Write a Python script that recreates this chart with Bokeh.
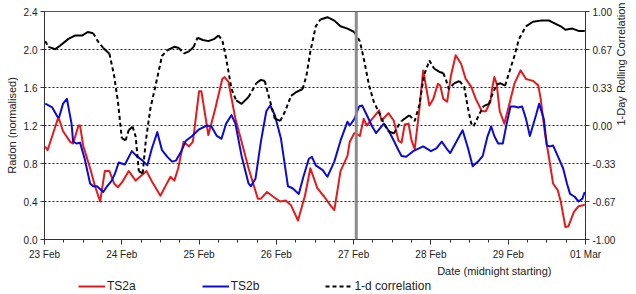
import math
import numpy as np
from bokeh.plotting import figure
from bokeh.layouts import column
from bokeh.models import (Range1d, LinearAxis, FixedTicker, NumeralTickFormatter,
                          Legend, LegendItem, Span, Title)
from bokeh.embed import file_html
from bokeh.resources import INLINE

# ---- data (time in days after 23 Feb 00:00) ----
ts2a_day = [0.01, 0.04, 0.18, 0.24, 0.33, 0.37, 0.44, 0.46, 0.50, 0.59, 0.65, 0.72, 0.78, 0.84, 0.90, 0.95,
            1.01, 1.09, 1.18, 1.32, 1.39, 1.50, 1.57, 1.63, 1.68, 1.73, 1.80, 1.87, 1.92, 2.00, 2.03, 2.12,
            2.21, 2.30, 2.33, 2.38, 2.47, 2.55, 2.64, 2.76, 2.80, 2.88, 2.96, 3.05, 3.12, 3.19, 3.28, 3.37,
            3.44, 3.53, 3.62, 3.70, 3.75, 3.83, 3.92, 3.95, 4.01, 4.08, 4.13, 4.17, 4.24, 4.33, 4.36, 4.45,
            4.52, 4.58, 4.62, 4.66, 4.71, 4.75, 4.79, 4.85, 4.90, 4.98, 5.03, 5.09, 5.12, 5.16, 5.21, 5.26,
            5.32, 5.39, 5.45, 5.52, 5.58, 5.66, 5.71, 5.77, 5.79, 5.82, 5.85, 5.89, 5.95, 6.01, 6.08, 6.16,
            6.23, 6.32, 6.39, 6.42, 6.48, 6.53, 6.58, 6.64, 6.68, 6.74, 6.78, 6.85, 6.91, 6.97, 6.99]
ts2a_val = [0.98, 0.94, 1.29, 1.14, 1.03, 1.01, 1.20, 1.20, 0.99, 0.75, 0.57, 0.40, 0.72, 0.72, 0.59, 0.55,
            0.61, 0.72, 0.62, 0.72, 0.61, 0.46, 0.57, 0.66, 0.62, 0.75, 1.03, 0.98, 1.03, 1.56, 1.56, 1.10,
            1.38, 1.69, 1.71, 1.66, 1.27, 1.03, 0.75, 0.43, 0.43, 0.50, 0.45, 0.40, 0.41, 0.36, 0.20, 0.46,
            0.75, 0.54, 0.45, 0.36, 0.31, 0.72, 0.88, 1.03, 1.12, 1.09, 1.27, 1.20, 1.27, 1.36, 1.25, 1.33,
            1.25, 1.04, 1.02, 1.21, 1.22, 1.04, 0.95, 1.37, 1.78, 1.41, 1.48, 1.64, 1.62, 1.48, 1.45, 1.73,
            1.94, 1.85, 1.69, 1.61, 1.48, 1.35, 1.35, 1.45, 1.58, 1.71, 1.64, 1.35, 1.22, 1.41, 1.64, 1.78,
            1.69, 1.67, 1.62, 1.48, 1.09, 0.85, 0.59, 0.52, 0.40, 0.13, 0.14, 0.29, 0.35, 0.36, 0.37]

ts2b_day = [0.01, 0.10, 0.17, 0.19, 0.24, 0.29, 0.35, 0.37, 0.42, 0.46, 0.52, 0.59, 0.63, 0.68, 0.76, 0.81,
            0.87, 0.91, 0.96, 1.04, 1.13, 1.19, 1.27, 1.33, 1.39, 1.46, 1.52, 1.59, 1.65, 1.70, 1.77, 1.83,
            1.91, 2.00, 2.10, 2.16, 2.23, 2.29, 2.35, 2.42, 2.47, 2.55, 2.64, 2.67, 2.73, 2.80, 2.87, 2.92,
            2.98, 3.06, 3.15, 3.21, 3.29, 3.35, 3.42, 3.46, 3.51, 3.60, 3.66, 3.75, 3.83, 3.92, 3.95, 4.01,
            4.07, 4.11, 4.17, 4.24, 4.29, 4.39, 4.45, 4.52, 4.58, 4.62, 4.68, 4.77, 4.90, 5.00, 5.07, 5.14,
            5.20, 5.25, 5.35, 5.41, 5.48, 5.54, 5.61, 5.67, 5.73, 5.78, 5.82, 5.87, 5.93, 5.98, 6.03, 6.08,
            6.13, 6.18, 6.23, 6.28, 6.36, 6.40, 6.46, 6.50, 6.54, 6.58, 6.64, 6.71, 6.76, 6.80, 6.86, 6.91,
            6.96, 6.99]
ts2b_val = [1.43, 1.39, 1.29, 1.29, 1.43, 1.48, 1.22, 1.03, 1.01, 1.02, 0.85, 0.59, 0.56, 0.56, 0.50, 0.56,
            0.62, 0.69, 0.81, 0.79, 0.93, 0.88, 0.83, 0.78, 0.96, 1.13, 0.94, 0.87, 0.82, 0.83, 0.93, 1.04,
            1.09, 1.16, 1.20, 1.19, 1.09, 1.06, 1.22, 1.31, 1.22, 0.88, 0.59, 0.56, 0.64, 1.03, 1.35, 1.41,
            1.31, 1.06, 0.56, 0.54, 0.48, 0.66, 0.85, 0.87, 0.78, 0.73, 0.66, 0.82, 1.04, 1.24, 1.20, 1.27,
            1.40, 1.41, 1.31, 1.19, 1.12, 1.22, 1.15, 1.04, 0.94, 0.88, 0.87, 0.93, 0.98, 0.93, 0.96, 1.03,
            0.96, 0.91, 1.06, 1.15, 0.96, 0.77, 0.82, 0.88, 1.08, 1.19, 1.09, 1.01, 1.01, 1.22, 1.40, 1.40,
            1.39, 1.40, 1.27, 1.09, 1.31, 1.43, 1.27, 0.99, 0.98, 0.99, 0.88, 0.75, 0.59, 0.48, 0.45, 0.40,
            0.43, 0.50]

corr_day = [0.01, 0.05, 0.14, 0.20, 0.31, 0.40, 0.49, 0.56, 0.63, 0.69, 0.76, 0.84, 0.90, 0.95, 1.00, 1.05,
            1.09, 1.14, 1.18, 1.22, 1.27, 1.31, 1.37, 1.45, 1.52, 1.59, 1.68, 1.74, 1.80, 1.87, 1.93, 1.98,
            2.05, 2.12, 2.20, 2.25, 2.30, 2.35, 2.42, 2.48, 2.55, 2.64, 2.74, 2.80, 2.85, 2.92, 2.98, 3.05,
            3.11, 3.19, 3.25, 3.34, 3.39, 3.44, 3.51, 3.57, 3.66, 3.75, 3.83, 3.92, 4.01, 4.08, 4.13, 4.20,
            4.26, 4.33, 4.39, 4.45, 4.52, 4.58, 4.62, 4.72, 4.79, 4.85, 4.91, 4.98, 5.04, 5.11, 5.16, 5.20,
            5.23, 5.30, 5.37, 5.43, 5.48, 5.52, 5.55, 5.62, 5.68, 5.75, 5.78, 5.85, 5.90, 5.96, 6.01, 6.08,
            6.14, 6.23, 6.32, 6.42, 6.53, 6.62, 6.68, 6.74, 6.83, 6.91, 6.99]
corr_val = [0.74, 0.69, 0.67, 0.70, 0.76, 0.79, 0.79, 0.82, 0.81, 0.74, 0.68, 0.63, 0.44, 0.21, -0.11, -0.13,
            -0.04, -0.01, -0.10, -0.40, -0.42, -0.14, 0.15, 0.39, 0.61, 0.66, 0.69, 0.68, 0.63, 0.65, 0.69, 0.77,
            0.75, 0.74, 0.76, 0.79, 0.75, 0.59, 0.32, 0.22, 0.19, 0.25, 0.37, 0.40, 0.39, 0.21, 0.06, 0.04,
            0.12, 0.26, 0.29, 0.32, 0.44, 0.65, 0.87, 0.93, 0.95, 0.92, 0.87, 0.85, 0.82, 0.74, 0.59, 0.35,
            0.21, 0.11, 0.02, -0.05, -0.07, 0.00, 0.04, 0.09, 0.04, 0.18, 0.44, 0.57, 0.50, 0.47, 0.46, 0.39,
            0.32, 0.37, 0.39, 0.34, 0.15, 0.02, -0.01, 0.09, 0.17, 0.19, 0.25, 0.36, 0.37, 0.35, 0.46, 0.61,
            0.76, 0.87, 0.91, 0.92, 0.92, 0.89, 0.87, 0.84, 0.85, 0.83, 0.83]

event_day = 4.034
x_tick_days = [0, 1, 2, 3, 4, 5, 6, 7]
x_tick_labels = ["23 Feb", "24 Feb", "25 Feb", "26 Feb", "27 Feb", "28 Feb", "29 Feb", "01 Mar"]
left_ticks = [0.0, 0.4, 0.8, 1.2, 1.6, 2.0, 2.4]
right_ticks = [-1.0, -2 / 3, -1 / 3, 0.0, 1 / 3, 2 / 3, 1.0]
series_names = ["TS2a", "TS2b", "1-d correlation"]

FONT = "Liberation Sans"
RED = "#e41a1c"
BLUE = "#0b0bd8"
DASH = "4 3"

p = figure(width=636, height=278, x_range=Range1d(0, 7), y_range=Range1d(0, 2.4),
           output_backend="svg", toolbar_location=None,
           min_border_left=44, min_border_right=45, min_border_top=11, min_border_bottom=39)
p.extra_y_ranges = {"corr": Range1d(-1, 1)}
p.outline_line_color = "#555555"
p.background_fill_color = "white"
p.border_fill_color = "white"

# axes
xa = p.xaxis[0]
xa.ticker = FixedTicker(ticks=x_tick_days, minor_ticks=list(np.arange(0, 7.01, 0.25)))
xa.major_label_overrides = {d: l for d, l in zip(x_tick_days, x_tick_labels)}
ya = p.yaxis[0]
ya.ticker = FixedTicker(ticks=left_ticks)
ya.formatter = NumeralTickFormatter(format="0.0")
ya.axis_label = "Radon (normalised)"
ra = LinearAxis(y_range_name="corr", ticker=FixedTicker(ticks=right_ticks),
                formatter=NumeralTickFormatter(format="0.00"),
                axis_label="1-Day Rolling Correlation")
if "axis_label_orientation" in ra.properties():
    ra.axis_label_orientation = math.pi / 2
p.add_layout(ra, "right")

for ax in (xa, ya, ra):
    ax.axis_line_color = "#333333"
    ax.major_tick_line_color = "#333333"
    ax.minor_tick_line_color = "#333333"
    ax.major_tick_in = 0
    ax.minor_tick_in = 0
    ax.major_tick_out = 4
    ax.minor_tick_out = 0
    ax.major_label_text_font = FONT
    ax.major_label_text_font_size = "10px"
    ax.major_label_text_color = "#222222"
    ax.axis_label_text_font = FONT
    ax.axis_label_text_font_size = "11px"
    ax.axis_label_text_font_style = "normal"
    ax.axis_label_text_color = "#222222"
    ax.major_label_standoff = 3
    ax.axis_label_standoff = 3
xa.major_tick_out = 5
xa.minor_tick_out = 3
xa.major_label_standoff = 4

p.xgrid.visible = False
p.ygrid.ticker = FixedTicker(ticks=left_ticks)
p.ygrid.grid_line_color = "#222222"
p.ygrid.grid_line_dash = "2 2"
p.ygrid.grid_line_width = 1

# series
p.line(ts2a_day, ts2a_val, line_color=RED, line_width=2, line_join="round")
p.line(ts2b_day, ts2b_val, line_color=BLUE, line_width=2, line_join="round")

# correlation: steep parts look dashed, flat parts look solid
cd = np.array(corr_day)
cv = np.array(corr_val)
steep = np.abs(np.diff(cv)) * 114 > np.diff(cd) * 78 * 1.0
runs = []
start = 0
for i in range(1, len(steep)):
    if steep[i] != steep[start]:
        runs.append((bool(steep[start]), start, i))
        start = i
runs.append((bool(steep[start]), start, len(steep)))
sx, sy, dx, dy = [], [], [], []
for is_steep, a, b in runs:
    if is_steep:
        dx.append(list(cd[a:b + 1])); dy.append(list(cv[a:b + 1]))
    else:
        sx.append(list(cd[a:b + 1])); sy.append(list(cv[a:b + 1]))
p.multi_line(sx, sy, line_color="black", line_width=2, line_join="round", y_range_name="corr")
p.multi_line(dx, dy, line_color="black", line_width=2, line_dash=DASH, y_range_name="corr")

p.add_layout(Span(location=event_day, dimension="height", line_color="#8c8c8c", line_width=3))

p.add_layout(Title(text="Date (midnight starting)", align="right", offset=34, standoff=0,
                   text_font=FONT, text_font_size="11px", text_font_style="normal",
                   text_color="#222222"), "below")

# ---- legend strip under the chart (series drawn out of view, only the legend shows) ----
q = figure(width=636, height=16, x_range=Range1d(-10, -9), y_range=Range1d(0, 2.4),
           output_backend="svg", toolbar_location=None,
           x_axis_location=None, y_axis_location=None,
           min_border_left=0, min_border_right=0, min_border_top=0, min_border_bottom=0)
q.outline_line_color = None
q.grid.visible = False
q.background_fill_color = "white"
q.border_fill_color = "white"
la = q.line(ts2a_day, ts2a_val, line_color=RED, line_width=2)
lb = q.line(ts2b_day, ts2b_val, line_color=BLUE, line_width=2)
lc = q.line(corr_day, corr_val, line_color="black", line_width=2, line_dash=DASH)
legend = Legend(items=[LegendItem(label=n, renderers=[r]) for n, r in zip(series_names, [la, lb, lc])],
                orientation="horizontal", location=(34, 0),
                glyph_width=27, glyph_height=16, label_height=16, label_standoff=2, spacing=66,
                padding=0, margin=0, border_line_alpha=0, background_fill_alpha=0,
                label_text_font=FONT, label_text_font_size="12px", label_text_color="#222222")
q.add_layout(legend, "center")

layout = column(p, q, spacing=0)
open("out.html", "w").write(file_html(layout, INLINE))
